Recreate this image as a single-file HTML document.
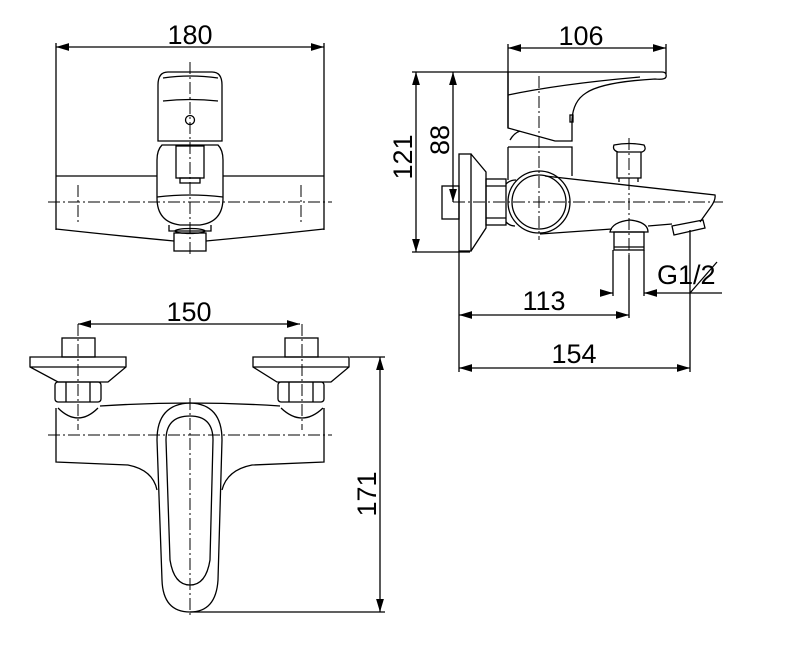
<!DOCTYPE html>
<html><head><style>
html,body{margin:0;padding:0;background:#fff}
svg{display:block}
text{font-family:"Liberation Sans",sans-serif;font-size:27px;fill:#000}
</style></head><body>
<svg width="788" height="649" viewBox="0 0 788 649" xmlns="http://www.w3.org/2000/svg">
<defs>
<marker id="a" viewBox="0 0 10 6" refX="10" refY="3" markerWidth="10" markerHeight="6" orient="auto-start-reverse"><path d="M0,0 L10,3 L0,6 Z" fill="#000"/></marker>
</defs>
<g fill="none" stroke="#000" stroke-width="1.3">
<!-- ===== TOP LEFT VIEW ===== -->
<line x1="56" y1="47" x2="324" y2="47" marker-start="url(#a)" marker-end="url(#a)"/>
<line x1="56" y1="43" x2="56" y2="230"/>
<line x1="324" y1="43" x2="324" y2="230"/>
<line x1="56" y1="176" x2="157" y2="176"/>
<line x1="223" y1="176" x2="324" y2="176"/>
<path d="M56,229 Q120,236 174,241 M206,241 Q260,236 324,229"/>
<path d="M158,141 V85 Q158,72 168,72 H212 Q222,72 222,85 V141 Z"/>
<path d="M163,78 Q190,74 218,78 M163,101 Q190,98 218,101"/>
<circle cx="190" cy="120" r="4.5"/>
<path d="M162,145 H218 Q223,150 223,160 V198 Q223,222 200,225 H180 Q157,222 157,198 V160 Q157,150 162,145 Z"/>
<path d="M157,197 Q190,193 223,197"/>
<rect x="176" y="146" width="28" height="32"/>
<rect x="180" y="178" width="20" height="5"/>
<path d="M169,225 V231 H211 V225"/>
<ellipse cx="190" cy="231" rx="15" ry="2.5"/>
<rect x="174" y="233" width="32" height="18"/>
<!-- ===== TOP RIGHT VIEW ===== -->
<line x1="508" y1="48" x2="666" y2="48" marker-start="url(#a)" marker-end="url(#a)"/>
<line x1="508" y1="44" x2="508" y2="128"/>
<line x1="666" y1="44" x2="666" y2="74"/>
<line x1="412" y1="72" x2="508" y2="72"/>
<line x1="416" y1="72" x2="416" y2="252" marker-start="url(#a)" marker-end="url(#a)"/>
<line x1="453" y1="72" x2="453" y2="202" marker-start="url(#a)" marker-end="url(#a)"/>
<line x1="412" y1="252" x2="470" y2="252"/>
<path d="M508,72 H662 Q667,72 666,77 Q665,80 655,79 Q602,82 586,93 Q573,101 572,120 V141 L555,141 L508,128 Z"/>
<path d="M508,95 Q560,84 640,77"/>
<rect x="570" y="115" width="3" height="7"/>
<path d="M510,140 Q514,133 520,131 M508,147 H572 V176"/>
<line x1="508" y1="147" x2="508" y2="180"/>
<circle cx="539" cy="202" r="31"/>
<circle cx="539" cy="202" r="27"/>
<path d="M545,176 L715,195 Q716,200 710,208 L700,222 M540,234 L612,229 M648,226 L672,224"/>
<path d="M614,145 Q612,150 618,152 H642 Q647,150 644,145 Q629,142 614,145 Z"/>
<path d="M617,152 V178 H641 V152 M619,178 V182 M638,178 V182"/>
<path d="M610,232 Q612,222 630,220 Q648,222 648,232 Z"/>
<rect x="614" y="232" width="30" height="18"/>
<line x1="614" y1="247" x2="644" y2="247"/>
<path d="M672,226 L703,220 L705,228 L674,235 Z"/>
<rect x="459" y="154" width="12" height="97"/>
<path d="M471,154 L486,172 V228 L471,251"/>
<rect x="442" y="186" width="17" height="33"/>
<rect x="486" y="179" width="20" height="46"/>
<path d="M486,186 H506 M486,218 H506"/>
<path d="M506,184 Q510,180 516,180 M506,222 Q510,226 515,226"/>
<!-- dims bottom -->
<line x1="459" y1="251" x2="459" y2="372"/>
<line x1="459" y1="315" x2="629" y2="315" marker-start="url(#a)" marker-end="url(#a)"/>
<line x1="459" y1="368" x2="690" y2="368" marker-start="url(#a)" marker-end="url(#a)"/>
<line x1="613" y1="250" x2="613" y2="296"/>
<line x1="644" y1="250" x2="644" y2="296"/>
<line x1="601" y1="293" x2="613" y2="293" marker-end="url(#a)"/>
<line x1="722" y1="293" x2="644" y2="293" marker-end="url(#a)"/>
<line x1="690" y1="230" x2="690" y2="372"/>
<line x1="690" y1="293" x2="717" y2="262"/>
<!-- ===== BOTTOM VIEW ===== -->
<line x1="78" y1="324" x2="300" y2="324" marker-start="url(#a)" marker-end="url(#a)"/>
<rect x="62" y="338" width="33" height="19"/>
<path d="M30,357 H126 V367 L108,382 H58 L30,367 Z M30,367 H126"/>
<rect x="55" y="382" width="46" height="20" rx="3"/>
<path d="M66,382 V402 M90,382 V402"/>
<path d="M58,408 Q78,428 98,408"/>
<rect x="285" y="338" width="33" height="19"/>
<path d="M253,357 H349 V367 L331,382 H277 L253,367 Z M253,367 H349"/>
<rect x="278" y="382" width="46" height="20" rx="3"/>
<path d="M289,382 V402 M313,382 V402"/>
<path d="M281,408 Q302,428 323,408"/>
<path d="M56,408 V462 L128,465 Q153,470 157,490"/>
<path d="M324,408 V462 L252,465 Q227,470 222,490"/>
<path d="M100,406 Q190,400 280,406"/>
<path d="M157,440 Q157,404 190,403 Q222,404 222,440 L218,580 Q216,612 190,612 Q163,612 162,580 Z"/>
<path d="M166,440 Q166,416 190,416 Q213,416 213,440 L210,560 Q206,585 190,585 Q174,585 170,560 Z"/>
<line x1="190" y1="612" x2="385" y2="612"/>
<line x1="350" y1="357" x2="385" y2="357"/>
<line x1="380" y1="357" x2="380" y2="612" marker-start="url(#a)" marker-end="url(#a)"/>
</g>
<!-- centerlines -->
<g fill="none" stroke="#000" stroke-width="1" stroke-dasharray="12,3,2,3">
<line x1="48" y1="202" x2="332" y2="202"/>
<line x1="190" y1="62" x2="190" y2="256"/>
<line x1="78" y1="185" x2="78" y2="222"/>
<line x1="301" y1="185" x2="301" y2="222"/>
<line x1="453" y1="202" x2="723" y2="202"/>
<line x1="539" y1="76" x2="539" y2="240"/>
<line x1="629" y1="138" x2="629" y2="255"/>
<line x1="48" y1="435" x2="332" y2="435"/>
<line x1="190" y1="398" x2="190" y2="616"/>
<line x1="78" y1="324" x2="78" y2="430"/>
<line x1="302" y1="324" x2="302" y2="430"/>
</g>
<line x1="629" y1="255" x2="629" y2="318" stroke="#000" stroke-width="1.3"/>
<g>
<text x="190" y="44" text-anchor="middle">180</text>
<text x="581" y="45" text-anchor="middle">106</text>
<text x="544" y="310" text-anchor="middle">113</text>
<text x="574" y="363" text-anchor="middle">154</text>
<text x="657" y="284">G1/2</text>
<text x="189" y="321" text-anchor="middle">150</text>
<text transform="translate(412,157) rotate(-90)" text-anchor="middle">121</text>
<text transform="translate(449,140) rotate(-90)" text-anchor="middle">88</text>
<text transform="translate(376,494) rotate(-90)" text-anchor="middle">171</text>
</g>
</svg>
</body></html>
